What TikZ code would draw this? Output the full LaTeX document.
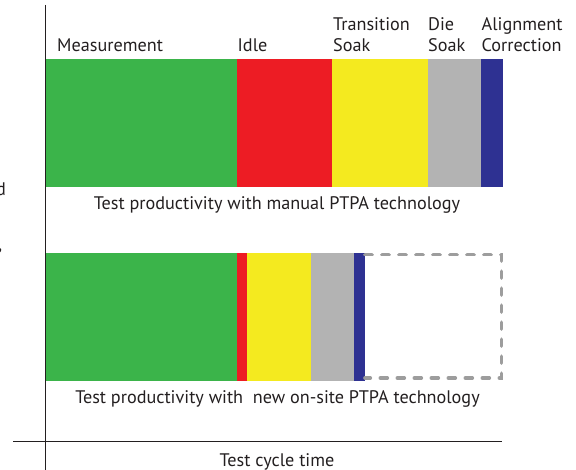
\documentclass[tikz,border=0pt]{standalone}
\usepackage{fontspec}
\setmainfont{PT Sans}
\definecolor{txt}{HTML}{231F20}
\definecolor{cgreen}{HTML}{3BB44A}
\definecolor{cred}{HTML}{ED1C24}
\definecolor{cyellow}{HTML}{F4EA1F}
\definecolor{cgray}{HTML}{B3B3B3}
\definecolor{cblue}{HTML}{2E3192}
\definecolor{cdash}{HTML}{9D9D9D}
\begin{document}
\begin{tikzpicture}[x=1pt,y=-1pt,
  seg/.style={draw=none,inner sep=0pt,outer sep=0pt,anchor=north west,minimum height=128pt},
  lbl/.style={inner sep=0pt,anchor=base west,text=txt,font=\fontsize{18.2}{21}\selectfont,align=left},
  captext/.style={inner sep=0pt,anchor=base,text=txt,font=\fontsize{18.2}{21}\selectfont},
  axis/.style={draw=txt,line width=1.8pt},
  dashbox/.style={draw=cdash,line width=3.6pt,dash pattern=on 7pt off 10pt,line cap=round}]
\useasboundingbox (0,0) rectangle (576,470);
% top bar
\node[seg,fill=cgreen,minimum width=191pt] (t1) at (46,59) {};
\node[seg,fill=cred,minimum width=95pt] (t2) at (237,59) {};
\node[seg,fill=cyellow,minimum width=96pt] (t3) at (332,59) {};
\node[seg,fill=cgray,minimum width=53pt] (t4) at (428,59) {};
\node[seg,fill=cblue,minimum width=22pt] (t5) at (481,59) {};
% bottom bar
\node[seg,fill=cgreen,minimum width=191pt] (b1) at (46,253) {};
\node[seg,fill=cred,minimum width=10pt] (b2) at (237,253) {};
\node[seg,fill=cyellow,minimum width=64pt] (b3) at (247,253) {};
\node[seg,fill=cgray,minimum width=43pt] (b4) at (311,253) {};
\node[seg,fill=cblue,minimum width=11pt] (b5) at (354,253) {};
\coordinate (d1) at (365,254.7);
\coordinate (d2) at (501.5,254.7);
\coordinate (d3) at (501.5,378);
\coordinate (d4) at (365,378);
\draw[dashbox] (d1) -- (d2) -- (d3) -- (d4);
% axes
\coordinate (vtop) at (45.5,5);
\coordinate (vbot) at (45.5,472);
\coordinate (hl) at (13,441.5);
\coordinate (hr) at (502,441.5);
\draw[axis] (vtop) -- (vbot);
\draw[axis,line width=1.4pt] (hl) -- (hr);
% labels
\node[lbl] (l1) at (57,52) {Measurement};
\node[lbl] (l2) at (237.5,52) {Idle};
\node[lbl] (l3) at (333,52) {Transition\\Soak};
\node[lbl] (l4) at (428,52) {Die\\Soak};
\node[lbl] (l5) at (481.5,52) {Alignment\\Correction};
\node[captext] (c1) at (277,210) {Test productivity with manual PTPA technology};
\node[captext] (c2) at (277.5,404) {Test productivity with\ \ new on-site PTPA technology};
\node[captext] (c3) at (277,466) {Test cycle time};
% cut-off text at left edge
\node[lbl,anchor=base east] (f1) at (6,196) {d};
\node[lbl,anchor=base east] (f2) at (2.5,251) {,};
\end{tikzpicture}
\end{document}
